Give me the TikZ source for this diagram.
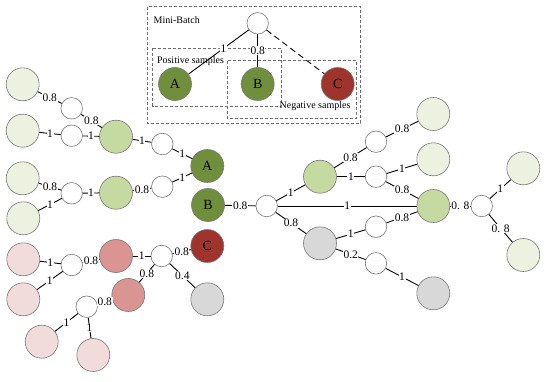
\documentclass[tikz,border=0pt]{standalone}
\usepackage{fontspec}
\setmainfont{Liberation Serif}
\begin{document}
\begin{tikzpicture}[x=1pt,y=-1pt,
  big/.style={circle, draw=circgray, line width=0.6pt, minimum size=33pt, inner sep=0pt, font=\fontsize{14}{14}\selectfont},
  sm/.style={circle, draw=circgray, line width=0.6pt, fill=white, minimum size=21.5pt, inner sep=0pt},
  edge/.style={draw=black, line width=0.9pt},
  lab/.style={fill=white, inner sep=0.6pt, font=\fontsize{11.5}{11.5}\selectfont},
  box/.style={draw=boxgray, line width=0.6pt, dash pattern=on 3pt off 2pt},
  boxtxt/.style={inner sep=0pt, font=\fontsize{10}{10}\selectfont}]
\definecolor{circgray}{RGB}{120,120,120}
\definecolor{boxgray}{RGB}{110,110,110}
\definecolor{dkgreen}{RGB}{112,143,60}
\definecolor{mdgreen}{RGB}{197,218,160}
\definecolor{ltgreen}{RGB}{236,242,223}
\definecolor{dkred}{RGB}{158,52,44}
\definecolor{mdred}{RGB}{218,148,146}
\definecolor{pink}{RGB}{242,220,219}
\definecolor{gry}{RGB}{216,216,216}
\useasboundingbox (0,0) rectangle (550,381);

% Mini-batch box
\draw[box] (147.3,6.7) rectangle (360.7,123.3);
\draw[box] (152.7,48.3) rectangle (281.7,106);
\draw[box] (227.3,60.7) rectangle (356.7,118.3);
\node[boxtxt] (mb) at (176.7,20) {Mini-Batch};
\node[boxtxt] (ps) at (190.5,61.5) {Positive samples};
\node[boxtxt] (ns) at (315,106) {Negative samples};

\node[sm] (T) at (257.7,23.3) {};
\node[big, fill=dkgreen] (A) at (175,84) {A};
\node[big, fill=dkgreen] (B) at (257.7,84) {B};
\node[big, fill=dkred] (C) at (337.7,84) {C};
\draw[edge] (T) -- node[lab, pos=0.42]{1} (A);
\draw[edge] (T) -- node[lab]{0.8} (B);
\draw[edge, dash pattern=on 6pt off 4pt] (T) -- (C);

% left part
\node[big, fill=ltgreen] (L1) at (22.7,84.3) {};
\node[sm] (w1) at (71.7,108.3) {};
\node[big, fill=ltgreen] (L2) at (22.7,130.7) {};
\node[sm] (w2) at (71.7,135.7) {};
\node[big, fill=mdgreen] (G1) at (116,136.7) {};
\node[sm] (w3) at (162.3,144) {};
\node[big, fill=dkgreen] (A2) at (207.3,166) {A};
\node[big, fill=ltgreen] (L3) at (22.7,178.3) {};
\node[sm] (w4) at (71.7,193.3) {};
\node[big, fill=mdgreen] (G2) at (116,192.7) {};
\node[sm] (w5) at (162.3,186.7) {};
\node[big, fill=dkgreen] (B2) at (208,205) {B};
\node[big, fill=ltgreen] (L4) at (23.3,218.3) {};
\node[big, fill=pink] (P1) at (23.3,259.3) {};
\node[sm] (w6) at (71.7,265) {};
\node[big, fill=mdred] (R1) at (116,256) {};
\node[sm] (w7) at (161.7,256) {};
\node[big, fill=dkred] (C2) at (207.3,246) {C};
\node[big, fill=pink] (P2) at (23.3,299.3) {};
\node[big, fill=mdred] (R2) at (128.3,295) {};
\node[sm] (w8) at (86.7,306.7) {};
\node[big, fill=gry] (Y1) at (207.3,299.3) {};
\node[big, fill=pink] (P3) at (41.7,341.7) {};
\node[big, fill=pink] (P4) at (93.3,355) {};

\draw[edge] (L1) -- node[lab]{0.8} (w1);
\draw[edge] (w1) -- node[lab]{0.8} (G1);
\draw[edge] (L2) -- node[lab]{1} (w2);
\draw[edge] (w2) -- node[lab]{1} (G1);
\draw[edge] (G1) -- node[lab]{1} (w3);
\draw[edge] (w3) -- node[lab]{1} (A2);
\draw[edge] (L3) -- node[lab]{0.8} (w4);
\draw[edge] (L4) -- node[lab]{1} (w4);
\draw[edge] (w4) -- node[lab]{1} (G2);
\draw[edge] (G2) -- node[lab]{0.8} (w5);
\draw[edge] (w5) -- node[lab]{1} (A2);
\draw[edge] (P1) -- node[lab]{1} (w6);
\draw[edge] (P2) -- node[lab]{1} (w6);
\draw[edge] (w6) -- node[lab]{0.8} (R1);
\draw[edge] (R1) -- node[lab]{1} (w7);
\draw[edge] (w7) -- node[lab]{0.8} (C2);
\draw[edge] (w7) -- node[lab]{0.8} (R2);
\draw[edge] (w7) -- node[lab]{0.4} (Y1);
\draw[edge] (R2) -- node[lab]{0.8} (w8);
\draw[edge] (P3) -- node[lab]{1} (w8);
\draw[edge] (w8) -- node[lab]{1} (P4);

% right part
\node[sm] (w9) at (266.7,206) {};
\node[big, fill=mdgreen] (G3) at (320,176.7) {};
\node[big, fill=mdgreen] (G4) at (433.3,206) {};
\node[sm] (w10) at (376,141.7) {};
\node[big, fill=ltgreen] (L5) at (433.3,114) {};
\node[sm] (w11) at (376,176.7) {};
\node[big, fill=ltgreen] (L6) at (433.3,159.3) {};
\node[big, fill=gry] (Y2) at (320,243.3) {};
\node[sm] (w12) at (376,226.7) {};
\node[sm] (w13) at (376,263.3) {};
\node[big, fill=gry] (Y3) at (433.3,293.3) {};
\node[sm] (w14) at (481.7,206) {};
\node[big, fill=ltgreen] (L7) at (523.3,168.3) {};
\node[big, fill=ltgreen] (L8) at (523.3,255) {};

\draw[edge] (B2) -- node[lab]{0.8} (w9);
\draw[edge] (w9) -- node[lab]{1} (G3);
\draw[edge] (w9) -- node[lab]{1} (G4);
\draw[edge] (w9) -- node[lab]{0.8} (Y2);
\draw[edge] (G3) -- node[lab]{0.8} (w10);
\draw[edge] (w10) -- node[lab]{0.8} (L5);
\draw[edge] (G3) -- node[lab]{1} (w11);
\draw[edge] (w11) -- node[lab]{1} (L6);
\draw[edge] (w11) -- node[lab]{0.8} (G4);
\draw[edge] (Y2) -- node[lab]{1} (w12);
\draw[edge] (w12) -- node[lab]{0.8} (G4);
\draw[edge] (Y2) -- node[lab]{0.2} (w13);
\draw[edge] (w13) -- node[lab]{1} (Y3);
\draw[edge] (G4) -- node[lab]{0. 8} (w14);
\draw[edge] (w14) -- node[lab]{1} (L7);
\draw[edge] (w14) -- node[lab]{0. 8} (L8);
\end{tikzpicture}
\end{document}
